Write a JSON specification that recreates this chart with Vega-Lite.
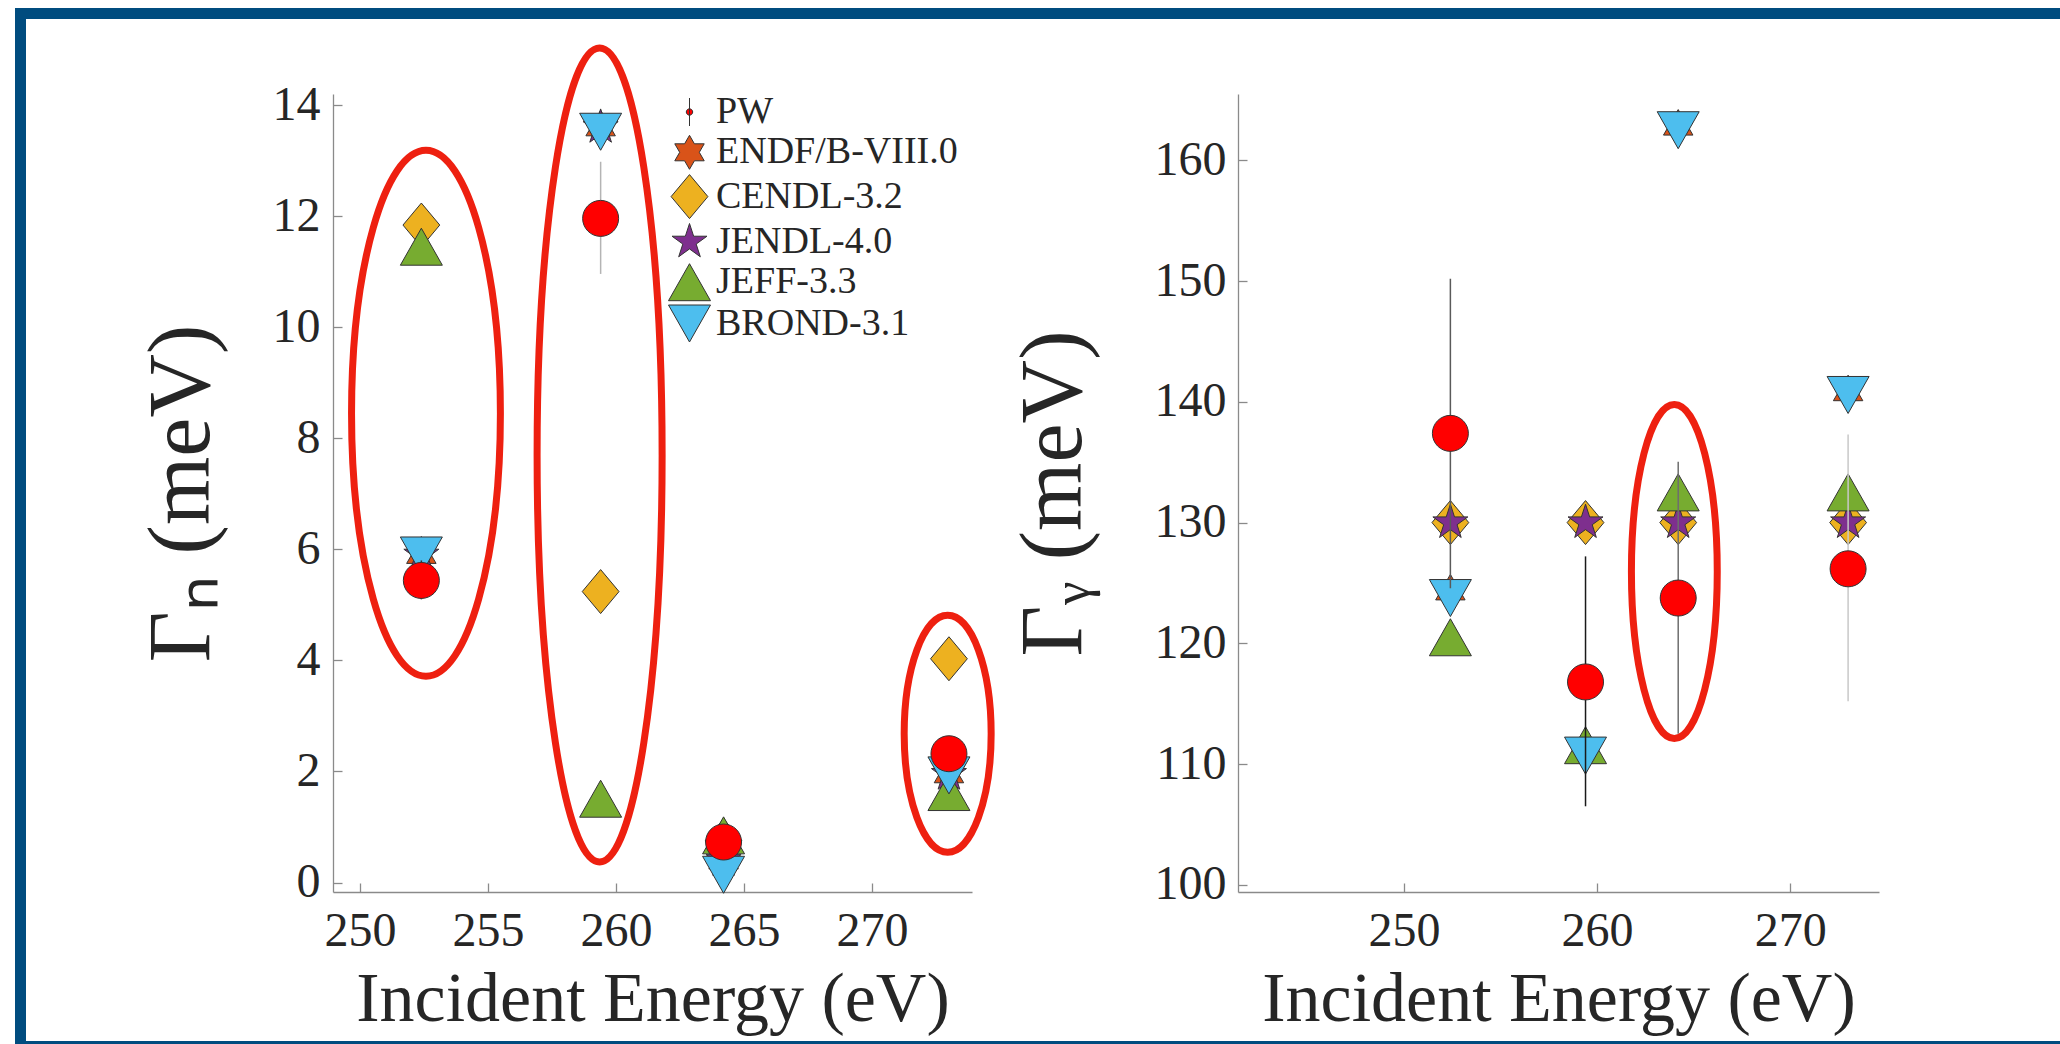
{
"$schema": "https://vega.github.io/schema/vega-lite/v6.json",
"padding": {"left": 15, "top": 8, "right": 0, "bottom": 0},
"background": "white",
"bounds": "flush",
"spacing": 0,
"columns": 6,
"resolve": {"scale": {"stroke": "independent"}},
"config": {
  "view": {"stroke": null},
  "font": "Liberation Serif",
  "axis": {"grid": false, "labelFont": "Liberation Serif", "labelFontSize": 48, "labelColor": "#262626", "titleFont": "Liberation Serif", "titleFontWeight": "normal", "titleColor": "#262626", "domainColor": "#8a8a8a", "domainWidth": 1.3, "tickColor": "#8a8a8a", "tickWidth": 1.3, "tickSize": -9}
},
"datasets": {
  "refL": [
    {"E": 252.4, "G": 5.9, "lib": "ENDF/B-VIII.0"}, {"E": 259.4, "G": 13.6, "lib": "ENDF/B-VIII.0"}, {"E": 264.2, "G": 0.4, "lib": "ENDF/B-VIII.0"}, {"E": 273.0, "G": 1.95, "lib": "ENDF/B-VIII.0"},
    {"E": 252.4, "G": 11.84, "lib": "CENDL-3.2"}, {"E": 259.4, "G": 5.24, "lib": "CENDL-3.2"}, {"E": 264.2, "G": 0.75, "lib": "CENDL-3.2"}, {"E": 273.0, "G": 4.03, "lib": "CENDL-3.2"},
    {"E": 252.4, "G": 5.9, "lib": "JENDL-4.0"}, {"E": 259.4, "G": 13.6, "lib": "JENDL-4.0"}, {"E": 264.2, "G": 0.4, "lib": "JENDL-4.0"}, {"E": 273.0, "G": 1.95, "lib": "JENDL-4.0"},
    {"E": 252.4, "G": 11.45, "lib": "JEFF-3.3"}, {"E": 259.4, "G": 1.51, "lib": "JEFF-3.3"}, {"E": 264.2, "G": 0.85, "lib": "JEFF-3.3"}, {"E": 273.0, "G": 1.63, "lib": "JEFF-3.3"},
    {"E": 252.4, "G": 5.89, "lib": "BROND-3.1"}, {"E": 259.4, "G": 13.52, "lib": "BROND-3.1"}, {"E": 264.2, "G": 0.14, "lib": "BROND-3.1"}, {"E": 273.0, "G": 1.93, "lib": "BROND-3.1"}
  ],
  "pwL": [
    {"E": 252.4, "G": 5.44, "lo": 5.1, "hi": 5.8},
    {"E": 259.4, "G": 11.96, "lo": 10.96, "hi": 12.98},
    {"E": 264.2, "G": 0.73, "lo": 0.68, "hi": 0.78},
    {"E": 273.0, "G": 2.32, "lo": 2.25, "hi": 2.4}
  ],
  "refR": [
    {"E": 252.4, "G": 124.3, "lib": "ENDF/B-VIII.0"}, {"E": 259.4, "G": 110.8, "lib": "ENDF/B-VIII.0"}, {"E": 264.2, "G": 162.8, "lib": "ENDF/B-VIII.0"}, {"E": 273.0, "G": 140.8, "lib": "ENDF/B-VIII.0"},
    {"E": 252.4, "G": 130, "lib": "CENDL-3.2"}, {"E": 259.4, "G": 130, "lib": "CENDL-3.2"}, {"E": 264.2, "G": 130, "lib": "CENDL-3.2"}, {"E": 273.0, "G": 130, "lib": "CENDL-3.2"},
    {"E": 252.4, "G": 130, "lib": "JENDL-4.0"}, {"E": 259.4, "G": 130, "lib": "JENDL-4.0"}, {"E": 264.2, "G": 130, "lib": "JENDL-4.0"}, {"E": 273.0, "G": 130, "lib": "JENDL-4.0"},
    {"E": 252.4, "G": 120.5, "lib": "JEFF-3.3"}, {"E": 259.4, "G": 111.56, "lib": "JEFF-3.3"}, {"E": 264.2, "G": 132.5, "lib": "JEFF-3.3"}, {"E": 273.0, "G": 132.5, "lib": "JEFF-3.3"},
    {"E": 252.4, "G": 123.75, "lib": "BROND-3.1"}, {"E": 259.4, "G": 110.7, "lib": "BROND-3.1"}, {"E": 264.2, "G": 162.5, "lib": "BROND-3.1"}, {"E": 273.0, "G": 140.57, "lib": "BROND-3.1"}
  ],
  "pwR": [
    {"E": 252.4, "G": 137.39, "lo": 124.57, "hi": 150.2},
    {"E": 259.4, "G": 116.8, "lo": 106.5, "hi": 127.2},
    {"E": 264.2, "G": 123.75, "lo": 112.5, "hi": 135.04},
    {"E": 273.0, "G": 126.17, "lo": 115.2, "hi": 137.3}
  ],
  "ell": [
    {"id": "L1", "E": 252.58, "G": 8.45},
    {"id": "L2", "E": 259.36, "G": 7.7},
    {"id": "L3", "E": 272.95, "G": 2.68},
    {"id": "R1", "E": 264.0, "G": 125.95}
  ]
},
"concat": [
  {"width": 11, "height": 11, "data": {"values": []}, "mark": "point", "encoding": {}, "view": {"fill": "#004C7F", "stroke": null}},
  {"width": 307, "height": 11, "data": {"values": []}, "mark": "point", "encoding": {}, "view": {"fill": "#004C7F", "stroke": null}},
  {"width": 639, "height": 11, "data": {"values": []}, "mark": "point", "encoding": {}, "view": {"fill": "#004C7F", "stroke": null}},
  {"width": 266, "height": 11, "data": {"values": []}, "mark": "point", "encoding": {}, "view": {"fill": "#004C7F", "stroke": null}},
  {"width": 641, "height": 11, "data": {"values": []}, "mark": "point", "encoding": {}, "view": {"fill": "#004C7F", "stroke": null}},
  {"width": 181, "height": 11, "data": {"values": []}, "mark": "point", "encoding": {}, "view": {"fill": "#004C7F", "stroke": null}},

  {"width": 11, "height": 75, "data": {"values": []}, "mark": "point", "encoding": {}, "view": {"fill": "#004C7F", "stroke": null}},
  {"width": 307, "height": 75, "data": {"values": []}, "mark": "point", "encoding": {}, "view": {"stroke": null}},
  {"width": 639, "height": 75, "data": {"values": []}, "mark": "point", "encoding": {}, "view": {"stroke": null}},
  {"width": 266, "height": 75, "data": {"values": []}, "mark": "point", "encoding": {}, "view": {"stroke": null}},
  {"width": 641, "height": 75, "data": {"values": []}, "mark": "point", "encoding": {}, "view": {"stroke": null}},
  {"width": 181, "height": 75, "data": {"values": []}, "mark": "point", "encoding": {}, "view": {"stroke": null}},

  {"width": 11, "height": 798, "data": {"values": []}, "mark": "point", "encoding": {}, "view": {"fill": "#004C7F", "stroke": null}},
  {"width": 307, "height": 798, "data": {"values": []}, "mark": "point", "encoding": {}, "view": {"stroke": null}},
  {
    "width": 639, "height": 798, "view": {"stroke": null},
    "layer": [
      {"data": {"name": "refL"},
       "mark": {"type": "point", "filled": true, "size": 1600, "stroke": "#333333", "strokeWidth": 1, "opacity": 1},
       "encoding": {
         "x": {"field": "E", "type": "quantitative", "title": "Incident Energy (eV)", "scale": {"domain": [248.95, 273.9], "nice": false, "zero": false}, "axis": {"values": [250, 255, 260, 265, 270], "labelPadding": 24, "titlePadding": 10, "titleFontSize": 70}},
         "y": {"field": "G", "type": "quantitative", "title": "Γₙ (meV)", "scale": {"domain": [-0.17, 14.2], "nice": false, "zero": false}, "axis": {"values": [0, 2, 4, 6, 8, 10, 12, 14], "labelPadding": 22, "titlePadding": 46, "titleFontSize": 88}},
         "shape": {"field": "lib", "type": "nominal",
           "scale": {"domain": ["PW", "ENDF/B-VIII.0", "CENDL-3.2", "JENDL-4.0", "JEFF-3.3", "BROND-3.1"],
                     "range": ["M0,-0.7L0,0.7M0.16,0C0.16,0.0884,0.0884,0.16,0,0.16C-0.0884,0.16,-0.16,0.0884,-0.16,0C-0.16,-0.0884,-0.0884,-0.16,0,-0.16C0.0884,-0.16,0.16,-0.0884,0.16,0Z",
                               "M0,-0.85L0.2454,-0.425L0.7361,-0.425L0.4907,0L0.7361,0.425L0.2454,0.425L0,0.85L-0.2454,0.425L-0.7361,0.425L-0.4907,0L-0.7361,-0.425L-0.2454,-0.425Z",
                               "M0,-1.1L0.92,0L0,1.1L-0.92,0Z",
                               "M0,-0.92L0.2065,-0.2843L0.875,-0.2843L0.3342,0.1086L0.5408,0.7443L0,0.3514L-0.5408,0.7443L-0.3342,0.1086L-0.875,-0.2843L-0.2065,-0.2843Z",
                               "M0,-0.925L1.05,0.925L-1.05,0.925Z",
                               "M0,0.925L1.05,-0.925L-1.05,-0.925Z"]},
           "legend": {"title": null, "orient": "none", "legendX": 654, "legendY": 83.5, "symbolSize": 1600, "rowPadding": 0.3, "labelOffset": 6, "labelFont": "Liberation Serif", "labelFontSize": 38, "labelColor": "#262626", "labelLimit": 500, "symbolStrokeColor": "#333333", "symbolStrokeWidth": 1, "symbolOpacity": 1, "padding": 0,
                      "encode": {"symbols": {"update": {"stroke": {"value": "#333333"}, "strokeWidth": {"value": 1}}}}}},
         "fill": {"field": "lib", "type": "nominal",
           "scale": {"domain": ["PW", "ENDF/B-VIII.0", "CENDL-3.2", "JENDL-4.0", "JEFF-3.3", "BROND-3.1"],
                     "range": ["#FF0000", "#D95319", "#EDB120", "#7E2F8E", "#77AC30", "#4DBEEE"]},
           "legend": {"title": null, "orient": "none", "legendX": 654, "legendY": 83.5, "symbolSize": 1600, "rowPadding": 0.3, "labelOffset": 6, "labelFont": "Liberation Serif", "labelFontSize": 38, "labelColor": "#262626", "labelLimit": 500, "symbolStrokeColor": "#333333", "symbolStrokeWidth": 1, "symbolOpacity": 1, "padding": 0,
                      "encode": {"symbols": {"update": {"stroke": {"value": "#333333"}, "strokeWidth": {"value": 1}}}}}}
       }},
      {"data": {"name": "pwL"},
       "mark": {"type": "rule", "strokeWidth": 1.5},
       "encoding": {
         "x": {"field": "E", "type": "quantitative", "title": "Incident Energy (eV)", "scale": {"domain": [248.95, 273.9], "nice": false, "zero": false}},
         "y": {"field": "lo", "type": "quantitative", "title": "Γₙ (meV)", "scale": {"domain": [-0.17, 14.2], "nice": false, "zero": false}},
         "y2": {"field": "hi"},
         "stroke": {"field": "E", "type": "nominal", "scale": {"domain": [252.4, 259.4, 264.2, 273.0], "range": ["#333333", "#b4b4b4", "#333333", "#333333"]}, "legend": null}
       }},
      {"data": {"name": "pwL"},
       "mark": {"type": "point", "shape": "circle", "filled": true, "fill": "#FF0000", "size": 1296, "stroke": "#333333", "strokeWidth": 1, "opacity": 1},
       "encoding": {
         "x": {"field": "E", "type": "quantitative", "title": "Incident Energy (eV)", "scale": {"domain": [248.95, 273.9], "nice": false, "zero": false}},
         "y": {"field": "G", "type": "quantitative", "title": "Γₙ (meV)", "scale": {"domain": [-0.17, 14.2], "nice": false, "zero": false}}
       }},
      {"data": {"name": "ell"}, "transform": [{"filter": "datum.id === 'L1'"}],
       "mark": {"type": "point", "filled": false, "stroke": "#EE2010", "strokeWidth": 7, "opacity": 1, "size": 276676,
                "shape": "M0,-1C0.1563,-1,0.283,-0.5523,0.283,0C0.283,0.5523,0.1563,1,0,1C-0.1563,1,-0.283,0.5523,-0.283,0C-0.283,-0.5523,-0.1563,-1,0,-1Z"},
       "encoding": {
         "x": {"field": "E", "type": "quantitative", "title": "Incident Energy (eV)", "scale": {"domain": [248.95, 273.9], "nice": false, "zero": false}},
         "y": {"field": "G", "type": "quantitative", "title": "Γₙ (meV)", "scale": {"domain": [-0.17, 14.2], "nice": false, "zero": false}}
       }},
      {"data": {"name": "ell"}, "transform": [{"filter": "datum.id === 'L2'"}],
       "mark": {"type": "point", "filled": false, "stroke": "#EE2010", "strokeWidth": 7, "opacity": 1, "size": 662596,
                "shape": "M0,-1C0.0848,-1,0.1536,-0.5523,0.1536,0C0.1536,0.5523,0.0848,1,0,1C-0.0848,1,-0.1536,0.5523,-0.1536,0C-0.1536,-0.5523,-0.0848,-1,0,-1Z"},
       "encoding": {
         "x": {"field": "E", "type": "quantitative", "title": "Incident Energy (eV)", "scale": {"domain": [248.95, 273.9], "nice": false, "zero": false}},
         "y": {"field": "G", "type": "quantitative", "title": "Γₙ (meV)", "scale": {"domain": [-0.17, 14.2], "nice": false, "zero": false}}
       }},
      {"data": {"name": "ell"}, "transform": [{"filter": "datum.id === 'L3'"}],
       "mark": {"type": "point", "filled": false, "stroke": "#EE2010", "strokeWidth": 7, "opacity": 1, "size": 56169,
                "shape": "M0,-1C0.2027,-1,0.367,-0.5523,0.367,0C0.367,0.5523,0.2027,1,0,1C-0.2027,1,-0.367,0.5523,-0.367,0C-0.367,-0.5523,-0.2027,-1,0,-1Z"},
       "encoding": {
         "x": {"field": "E", "type": "quantitative", "title": "Incident Energy (eV)", "scale": {"domain": [248.95, 273.9], "nice": false, "zero": false}},
         "y": {"field": "G", "type": "quantitative", "title": "Γₙ (meV)", "scale": {"domain": [-0.17, 14.2], "nice": false, "zero": false}}
       }}
    ]
  },
  {"width": 266, "height": 798, "data": {"values": []}, "mark": "point", "encoding": {}, "view": {"stroke": null}},
  {
    "width": 641, "height": 798, "view": {"stroke": null},
    "layer": [
      {"data": {"name": "refR"},
       "mark": {"type": "point", "filled": true, "size": 1600, "stroke": "#333333", "strokeWidth": 1, "opacity": 1},
       "encoding": {
         "x": {"field": "E", "type": "quantitative", "title": "Incident Energy (eV)", "scale": {"domain": [241.4, 274.6], "nice": false, "zero": false}, "axis": {"values": [250, 260, 270], "labelPadding": 24, "titlePadding": 10, "titleFontSize": 70}},
         "y": {"field": "G", "type": "quantitative", "title": "Γᵧ (meV)", "scale": {"domain": [99.4, 165.5], "nice": false, "zero": false}, "axis": {"values": [100, 110, 120, 130, 140, 150, 160], "labelPadding": 21, "titlePadding": 56, "titleFontSize": 88}},
         "shape": {"field": "lib", "type": "nominal",
           "scale": {"domain": ["PW", "ENDF/B-VIII.0", "CENDL-3.2", "JENDL-4.0", "JEFF-3.3", "BROND-3.1"],
                     "range": ["M0,-0.7L0,0.7M0.16,0C0.16,0.0884,0.0884,0.16,0,0.16C-0.0884,0.16,-0.16,0.0884,-0.16,0C-0.16,-0.0884,-0.0884,-0.16,0,-0.16C0.0884,-0.16,0.16,-0.0884,0.16,0Z",
                               "M0,-0.85L0.2454,-0.425L0.7361,-0.425L0.4907,0L0.7361,0.425L0.2454,0.425L0,0.85L-0.2454,0.425L-0.7361,0.425L-0.4907,0L-0.7361,-0.425L-0.2454,-0.425Z",
                               "M0,-1.1L0.92,0L0,1.1L-0.92,0Z",
                               "M0,-0.92L0.2065,-0.2843L0.875,-0.2843L0.3342,0.1086L0.5408,0.7443L0,0.3514L-0.5408,0.7443L-0.3342,0.1086L-0.875,-0.2843L-0.2065,-0.2843Z",
                               "M0,-0.925L1.05,0.925L-1.05,0.925Z",
                               "M0,0.925L1.05,-0.925L-1.05,-0.925Z"]},
           "legend": null},
         "fill": {"field": "lib", "type": "nominal",
           "scale": {"domain": ["PW", "ENDF/B-VIII.0", "CENDL-3.2", "JENDL-4.0", "JEFF-3.3", "BROND-3.1"],
                     "range": ["#FF0000", "#D95319", "#EDB120", "#7E2F8E", "#77AC30", "#4DBEEE"]},
           "legend": null}
       }},
      {"data": {"name": "pwR"},
       "mark": {"type": "rule", "strokeWidth": 1.5},
       "encoding": {
         "x": {"field": "E", "type": "quantitative", "title": "Incident Energy (eV)", "scale": {"domain": [241.4, 274.6], "nice": false, "zero": false}},
         "y": {"field": "lo", "type": "quantitative", "title": "Γᵧ (meV)", "scale": {"domain": [99.4, 165.5], "nice": false, "zero": false}},
         "y2": {"field": "hi"},
         "stroke": {"field": "E", "type": "nominal", "scale": {"domain": [252.4, 259.4, 264.2, 273.0], "range": ["#5a5a5a", "#1a1a1a", "#6e6e6e", "#c8c8c8"]}, "legend": null}
       }},
      {"data": {"name": "pwR"},
       "mark": {"type": "point", "shape": "circle", "filled": true, "fill": "#FF0000", "size": 1296, "stroke": "#333333", "strokeWidth": 1, "opacity": 1},
       "encoding": {
         "x": {"field": "E", "type": "quantitative", "title": "Incident Energy (eV)", "scale": {"domain": [241.4, 274.6], "nice": false, "zero": false}},
         "y": {"field": "G", "type": "quantitative", "title": "Γᵧ (meV)", "scale": {"domain": [99.4, 165.5], "nice": false, "zero": false}}
       }},
      {"data": {"name": "ell"}, "transform": [{"filter": "datum.id === 'R1'"}],
       "mark": {"type": "point", "filled": false, "stroke": "#EE2010", "strokeWidth": 7, "opacity": 1, "size": 111556,
                "shape": "M0,-1C0.1419,-1,0.257,-0.5523,0.257,0C0.257,0.5523,0.1419,1,0,1C-0.1419,1,-0.257,0.5523,-0.257,0C-0.257,-0.5523,-0.1419,-1,0,-1Z"},
       "encoding": {
         "x": {"field": "E", "type": "quantitative", "title": "Incident Energy (eV)", "scale": {"domain": [241.4, 274.6], "nice": false, "zero": false}},
         "y": {"field": "G", "type": "quantitative", "title": "Γᵧ (meV)", "scale": {"domain": [99.4, 165.5], "nice": false, "zero": false}}
       }}
    ]
  },
  {"width": 181, "height": 798, "data": {"values": []}, "mark": "point", "encoding": {}, "view": {"stroke": null}},

  {"width": 11, "height": 149, "data": {"values": []}, "mark": "point", "encoding": {}, "view": {"fill": "#004C7F", "stroke": null}},
  {"width": 307, "height": 149, "data": {"values": []}, "mark": "point", "encoding": {}, "view": {"stroke": null}},
  {"width": 639, "height": 149, "data": {"values": []}, "mark": "point", "encoding": {}, "view": {"stroke": null}},
  {"width": 266, "height": 149, "data": {"values": []}, "mark": "point", "encoding": {}, "view": {"stroke": null}},
  {"width": 641, "height": 149, "data": {"values": []}, "mark": "point", "encoding": {}, "view": {"stroke": null}},
  {"width": 181, "height": 149, "data": {"values": []}, "mark": "point", "encoding": {}, "view": {"stroke": null}},

  {"width": 11, "height": 3, "data": {"values": []}, "mark": "point", "encoding": {}, "view": {"fill": "#004C7F", "stroke": null}},
  {"width": 307, "height": 3, "data": {"values": []}, "mark": "point", "encoding": {}, "view": {"fill": "#004C7F", "stroke": null}},
  {"width": 639, "height": 3, "data": {"values": []}, "mark": "point", "encoding": {}, "view": {"fill": "#004C7F", "stroke": null}},
  {"width": 266, "height": 3, "data": {"values": []}, "mark": "point", "encoding": {}, "view": {"fill": "#004C7F", "stroke": null}},
  {"width": 641, "height": 3, "data": {"values": []}, "mark": "point", "encoding": {}, "view": {"fill": "#004C7F", "stroke": null}},
  {"width": 181, "height": 3, "data": {"values": []}, "mark": "point", "encoding": {}, "view": {"fill": "#004C7F", "stroke": null}}
]
}
